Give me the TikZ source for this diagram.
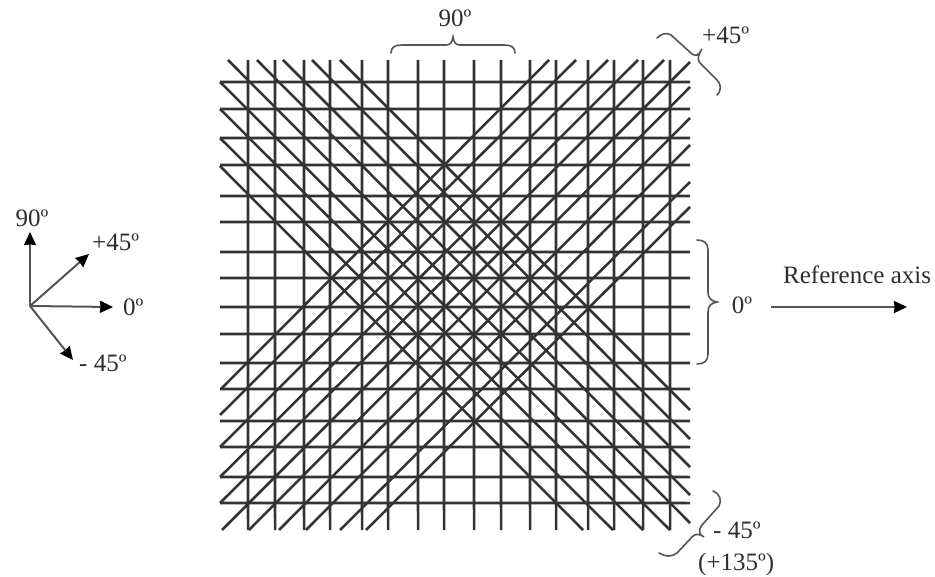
\documentclass[tikz,border=0pt]{standalone}
\usepackage{fontspec}
\setmainfont{Liberation Serif}
\usetikzlibrary{arrows.meta}
\definecolor{ink}{gray}{0.2}
\definecolor{soft}{gray}{0.33}
\tikzset{
  gridline/.style={draw=ink,line width=2.7pt},
  diagline/.style={draw=ink,line width=2.5pt},
  bracepath/.style={draw=soft,line width=1.6pt,line cap=round},
  axisarrow/.style={draw=soft,line width=2pt,-{Stealth[length=13pt,width=12pt,inset=0.5pt,black]}},
  lab/.style={font=\fontsize{25}{27}\selectfont,text=black!82,inner sep=0pt}
}
\begin{document}
\begin{tikzpicture}[x=1pt,y=-1pt]
\useasboundingbox (0,0) rectangle (935,577);
% vertical fibres (90 deg)
\foreach \x in {248,275,304,330,362,388,418,444,474,501,530,556,588,614,643,670}
  \draw[gridline] (\x,60) -- (\x+0.1,530);
% horizontal fibres (0 deg)
\foreach \y in {82,109,138,165,196,222,252,278,307,334,363,389,421,447,477,503}
  \draw[gridline] (220,\y) -- (690,\y+0.1);
% -45 deg fibres
\foreach \a/\b/\c/\d in {340/60/690/410,312/60/690/439,283/60/690/467,257/60/690/495,228/60/690/523,
  220/82/670/530,220/109/643/530,220/138/613/530,220/166/583/530}
  \draw[diagline] (\a,\b) -- (\c,\d);
% +45 deg fibres
\foreach \a/\b/\c/\d in {221/389/549/60,220/415/576/60,220/447/608/60,220/477/638/60,220/503/664/60,
  222/530/690/62,249/530/690/87,279/530/690/118,306/530/690/145,340/530/690/182,366/530/690/207}
  \draw[diagline] (\a,\b) -- (\c,\d);
% braces
\draw[bracepath] (391,53) .. controls (391,47) and (395,45) .. (402,45) -- (446,45)
  .. controls (450,45) and (452,43) .. (453,37) .. controls (454,43) and (456,45) .. (460,45)
  -- (504,45) .. controls (511,45) and (515,47) .. (515,53);
\draw[bracepath] (697,240) .. controls (704,240) and (708,243) .. (708,250) -- (708,292)
  .. controls (708,298) and (711,301) .. (717,302) .. controls (711,303) and (708,306) .. (708,312)
  -- (708,354) .. controls (708,361) and (704,364) .. (697,364);
\draw[bracepath] (657,38) .. controls (661,34) and (666,32) .. (671,35) -- (692,54)
  .. controls (696,57) and (699,55) .. (702,49) .. controls (698,55) and (697,60) .. (700,63)
  -- (717,80) .. controls (721,84) and (722,90) .. (717,95);
\draw[bracepath] (713,491) .. controls (720,494) and (722,500) .. (719,506) -- (702,525)
  .. controls (698,530) and (699,535) .. (704,537) .. controls (698,533) and (695,534) .. (692,537)
  -- (677,553) .. controls (672,557) and (665,557) .. (659,553);
% labels
\node[lab] (t90) at (455,18) {90º};
\node[lab,anchor=west] (t45) at (702,35) {+45º};
\node[lab] (t0) at (742,305) {0º};
\node[lab,anchor=west] (tref) at (783,275) {Reference axis};
\node[lab,anchor=west] (tm45) at (713,530) {- 45º};
\node[lab,anchor=west] (t135) at (698,564) {(+135º)};
\node[lab] (l90) at (32,218) {90º};
\node[lab,anchor=west] (l45) at (92,242) {+45º};
\node[lab,anchor=west] (l0) at (123,307) {0º};
\node[lab,anchor=west] (lm45) at (79,363) {- 45º};
% orientation arrows
\coordinate (o) at (30,306);
\coordinate (e90) at (30,232);
\coordinate (e45) at (89,254);
\coordinate (e0) at (113,307);
\coordinate (em45) at (73,360);
\draw[axisarrow] (o) -- (e90);
\draw[axisarrow] (o) -- (e45);
\draw[axisarrow] (o) -- (e0);
\draw[axisarrow] (o) -- (em45);
\coordinate (r0) at (771,307);
\coordinate (r1) at (907,307);
\draw[axisarrow] (r0) -- (r1);
\end{tikzpicture}
\end{document}
